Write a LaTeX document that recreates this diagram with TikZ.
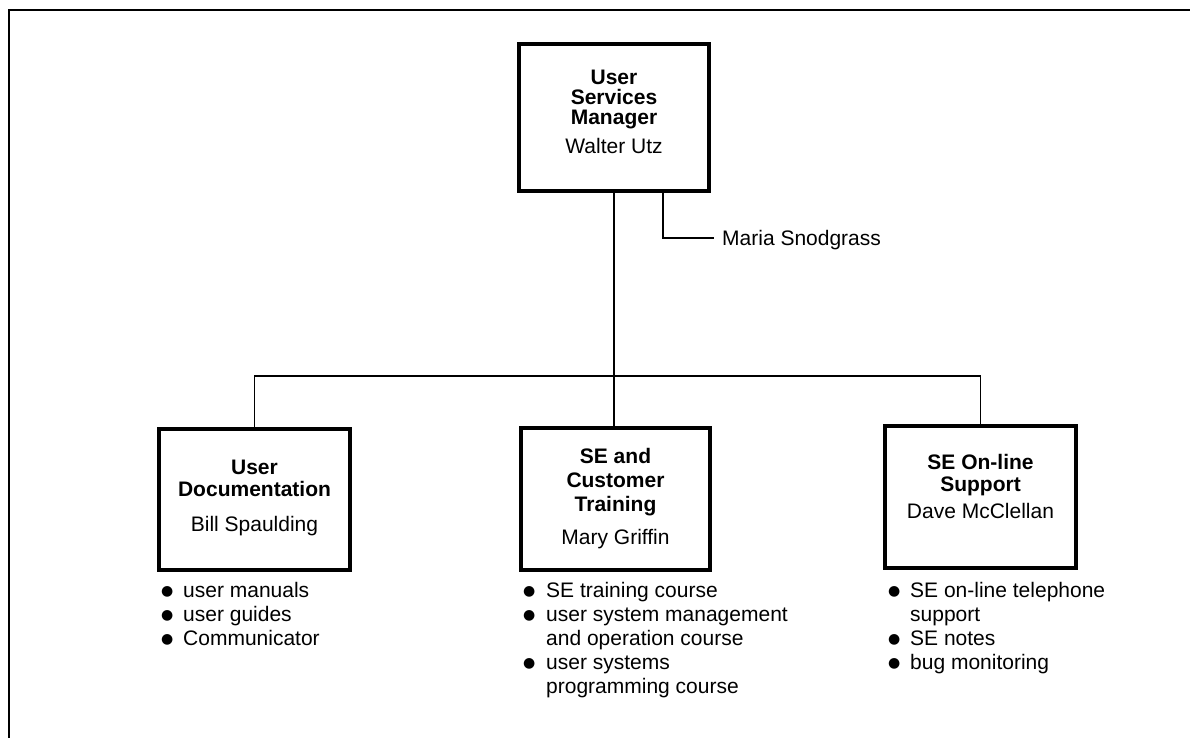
\documentclass[tikz,border=0pt]{standalone}
\usepackage{fontspec}
\setmainfont{Liberation Sans}
\newfontfamily\bulletfont{DejaVu Sans}
\newcommand\blt{\raisebox{1.5pt}{\bulletfont\fontsize{14}{14}\selectfont ●}}
\begin{document}
\begin{tikzpicture}[x=1pt,y=-1pt,
  every node/.style={font=\fontsize{21}{24}\selectfont, inner sep=0pt},
  orgbox/.style={draw, line width=4pt, fill=none},
  conn/.style={line width=1.6pt},
  frameline/.style={line width=2pt},
  ttl/.style={anchor=base, font=\fontsize{21}{24}\selectfont\bfseries},
  who/.style={anchor=base},
  lst/.style={anchor=base west, align=left}
]
\useasboundingbox (0,0) rectangle (1190,738);
% outer frame
\draw[frameline] (9,738) -- (9,10) -- (1190,10);

% boxes
\node[orgbox, minimum width=190pt, minimum height=147pt] (top) at (614,117.5) {};
\node[orgbox, minimum width=191pt, minimum height=141pt] (doc) at (254.5,499.5) {};
\node[orgbox, minimum width=189pt, minimum height=142pt] (train) at (615.5,499) {};
\node[orgbox, minimum width=191pt, minimum height=142pt] (supp) at (980.5,497) {};

% top box text
\node[ttl] (t1) at (614,85) {User};
\node[ttl] (t2) at (614,105) {Services};
\node[ttl] (t3) at (614,125) {Manager};
\node[who] (t4) at (614,154) {Walter Utz};

% left box text
\node[ttl] (d1) at (254.5,474) {User};
\node[ttl] (d2) at (254.5,496) {Documentation};
\node[who] (d3) at (254.5,531) {Bill Spaulding};

% middle box text
\node[ttl] (m1) at (615.5,463) {SE and};
\node[ttl] (m2) at (615.5,487) {Customer};
\node[ttl] (m3) at (615.5,511) {Training};
\node[who] (m4) at (615.5,544) {Mary Griffin};

% right box text
\node[ttl] (s1) at (980.5,469) {SE On-line};
\node[ttl] (s2) at (980.5,491) {Support};
\node[who] (s3) at (980.5,518) {Dave McClellan};

% staff
\coordinate (mbend) at (663,238);
\node[anchor=base west, inner xsep=8pt] (maria) at (714,245) {Maria Snodgrass};
\draw[conn] (top.south -| mbend) -- (mbend) -- (mbend -| maria.west);

% connectors
\coordinate (bus) at (614,376);
\draw[conn] (top.south) -- (top.south |- train.north);
\draw[conn] (doc.north) -- (doc.north |- bus) -- (supp.north |- bus) -- (supp.north);

% lists
\node[lst] (l1) at (161,597) {\begin{tabular}[t]{@{}p{22pt}@{}l@{}}
\blt & user manuals\\
\blt & user guides\\
\blt & Communicator
\end{tabular}};
\node[lst] (l2) at (523,597) {\begin{tabular}[t]{@{}p{23pt}@{}l@{}}
\blt & SE training course\\
\blt & user system management\\
 & and operation course\\
\blt & user systems\\
 & programming course
\end{tabular}};
\node[lst] (l3) at (888,597) {\begin{tabular}[t]{@{}p{22pt}@{}l@{}}
\blt & SE on-line telephone\\
 & support\\
\blt & SE notes\\
\blt & bug monitoring
\end{tabular}};
\end{tikzpicture}
\end{document}
